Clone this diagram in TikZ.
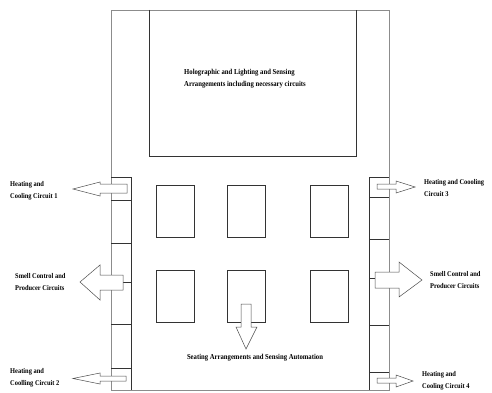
\documentclass[tikz,border=0pt]{standalone}
\usepackage{fontspec}
\setmainfont{Liberation Serif}
\newfontfamily\labfont[FakeStretch=0.88]{Liberation Serif}
\begin{document}
\begin{tikzpicture}[x=1pt,y=-1pt,
  frame/.style={draw=black!45,line width=0.8pt},
  part/.style={draw=black!80,line width=0.6pt},
  blockarrow/.style={draw=black!70,line width=0.5pt,fill=white},
  lbl/.style={font=\labfont\fontsize{7.3}{12}\selectfont\bfseries,inner sep=0pt,align=left,text=black}]
\useasboundingbox (0,0) rectangle (492,393);
% outer frame
\node[frame,minimum width=278pt,minimum height=380pt,inner sep=0pt,anchor=north west] (frame) at (111,10) {};
% holographic box
\draw[part] (149,10) -- (149,156) -- (356,156) -- (356,10);
\coordinate (holo) at (245,78.5);
% left column
\draw[part] (131,177) -- (131,390);
\foreach \yy [count=\i] in {177,200,243,282,324,368}
  \draw[part] (111,\yy) coordinate (L\i) -- (131,\yy);
% right column
\draw[part] (369,177) -- (369,390);
\foreach \yy [count=\i] in {177,197,239,278,325,372}
  \draw[part] (369,\yy) coordinate (R\i) -- (389,\yy);
% seats
\foreach \xx/\nm in {156/a,227/b,310/c}{
  \node[part,minimum width=38pt,minimum height=52pt,inner sep=0pt,anchor=north west] (seat1\nm) at (\xx,185) {};
  \node[part,minimum width=38pt,minimum height=52pt,inner sep=0pt,anchor=north west] (seat2\nm) at (\xx,270) {};
}
% left arrows
\draw[blockarrow] (127,184) -- (100,184) -- (100,182) -- (73,189) -- (100,196) -- (100,193) -- (127,193) -- cycle;
\draw[blockarrow] (123,275) -- (100,275) -- (100,265) -- (80,282) -- (100,300) -- (100,290) -- (123,290) -- cycle;
\draw[blockarrow] (126,376) -- (100,376) -- (100,373) -- (73,378.5) -- (100,384) -- (100,381) -- (126,381) -- cycle;
% right arrows
\draw[blockarrow] (377,184) -- (396,184) -- (396,181) -- (415,187) -- (396,193) -- (396,189) -- (377,189) -- cycle;
\draw[blockarrow] (375,272) -- (399,272) -- (399,262) -- (422,280) -- (399,297) -- (399,288) -- (375,288) -- cycle;
\draw[blockarrow] (377,378) -- (396,378) -- (396,375) -- (413,381) -- (396,387) -- (396,383) -- (377,383) -- cycle;
% down arrow
\draw[blockarrow] (241,304) -- (251,304) -- (251,327) -- (257,327) -- (246,349) -- (236,327) -- (241,327) -- cycle;
% labels
\node[lbl,font=\labfont\fontsize{7.6}{12}\selectfont\bfseries] (tholo) at (holo) {Holographic and Lighting and Sensing\\Arrangements including necessary circuits};
\node[lbl,anchor=west] (th1) at (10,190.5) {Heating and\\Cooling Circuit 1};
\node[lbl,anchor=west] (ts1) at (15,282.5) {Smell Control and\\Producer Circuits};
\node[lbl,anchor=west] (th2) at (10,377.5) {Heating and\\Coolling Circuit 2};
\node[lbl,anchor=west] (th3) at (424,188.5) {Heating and Coooling\\Circuit 3};
\node[lbl,anchor=west] (ts2) at (430,280.5) {Smell Control and\\Producer Circuits};
\node[lbl,anchor=west] (th4) at (422,380.5) {Heating and\\Cooling Circuit 4};
\node[lbl,font=\labfont\fontsize{7.6}{12}\selectfont\bfseries] (tseat) at (255,358) {Seating Arrangements and Sensing Automation};
\end{tikzpicture}
\end{document}
